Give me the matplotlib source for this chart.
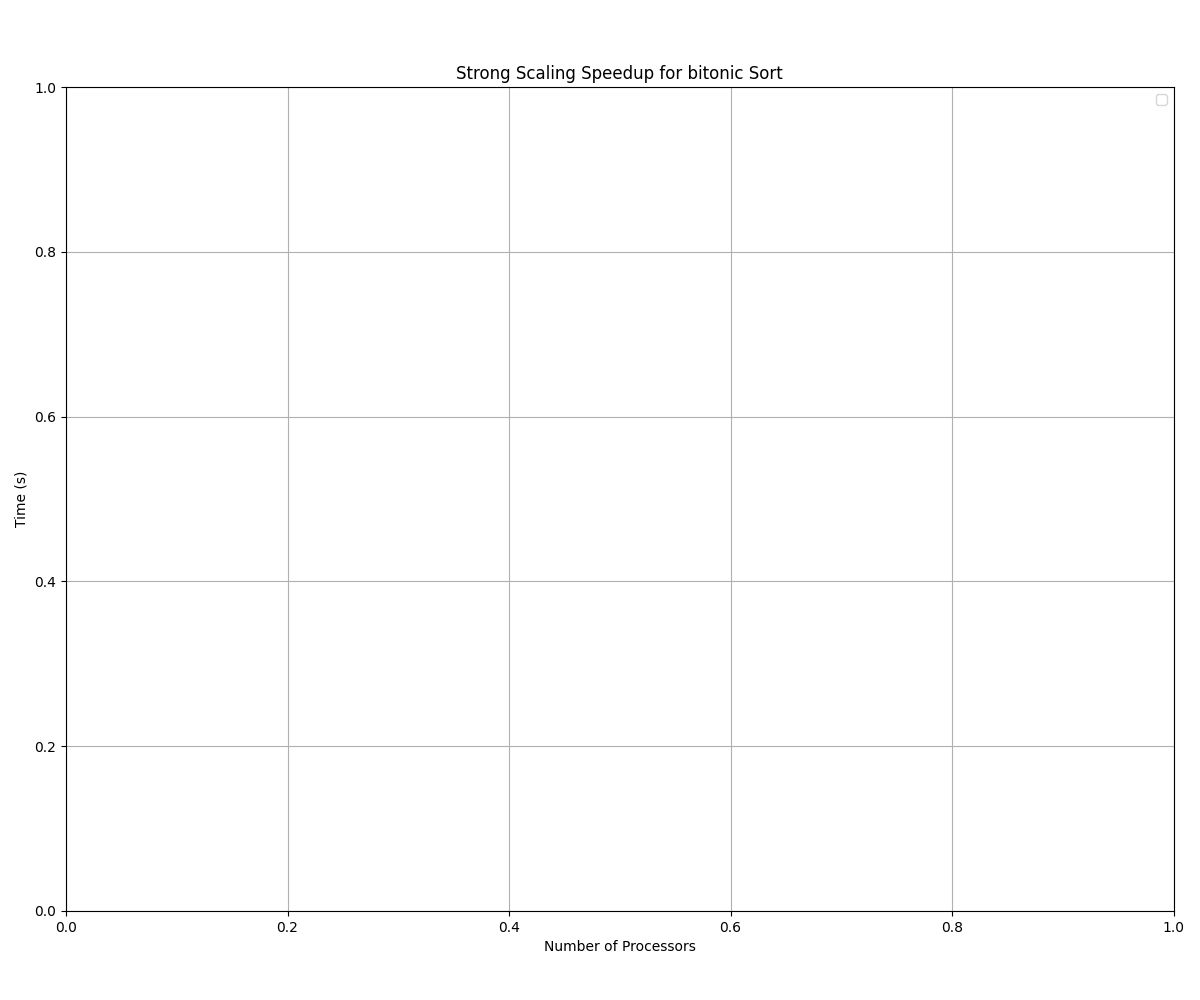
import matplotlib
matplotlib.use("Agg")
import matplotlib.pyplot as plt

# no series were drawn in the reference: the plot is empty
processors = []
speedups = []

fig = plt.figure(figsize=(12, 10), dpi=100)
ax = fig.add_axes([0.055, 0.089, 0.923, 0.824])
ax.plot(processors, speedups)
ax.set_xlim(0, 1)
ax.set_ylim(0, 1)
ax.set_title('Strong Scaling Speedup for bitonic Sort')
ax.set_xlabel('Number of Processors')
ax.set_ylabel('Time (s)')
ax.grid(True)
ax.legend(handles=[], loc='upper right')

fig.savefig('out.png')
